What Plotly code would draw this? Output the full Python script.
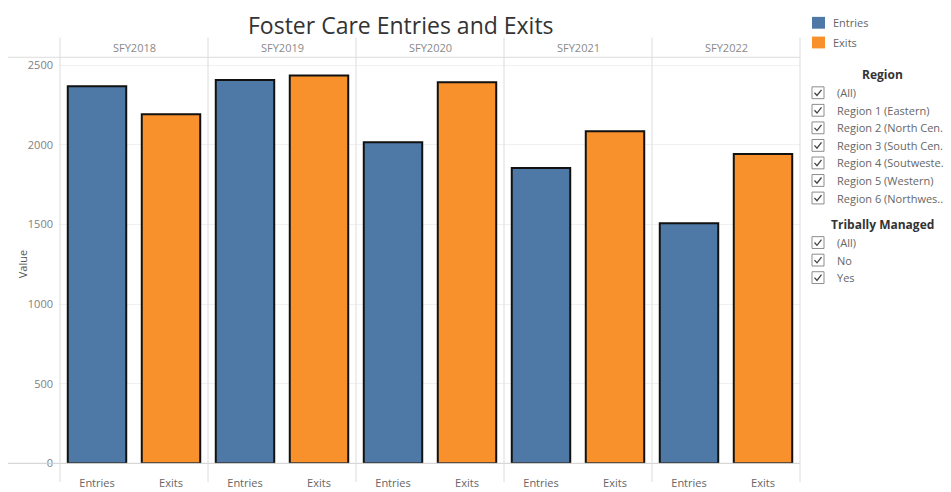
import plotly.graph_objects as go
from plotly.subplots import make_subplots

# ---- data ----
years = ["SFY2018", "SFY2019", "SFY2020", "SFY2021", "SFY2022"]
measures = ["Entries", "Exits"]
entries = [2368, 2407, 2016, 1855, 1507]
exits = [2192, 2436, 2393, 2086, 1942]
y_ticks = [0, 500, 1000, 1500, 2000, 2500]

region_items = ["(All)", "Region 1 (Eastern)", "Region 2 (North Cen...",
                "Region 3 (South Cen...", "Region 4 (Soutweste...",
                "Region 5 (Western)", "Region 6 (Northwes..."]
tribal_items = ["(All)", "No", "Yes"]

BLUE = "#4e79a7"
ORANGE = "#f8912b"
FONT = "Open Sans"

# the page body has an 8px margin, so the figure is drawn 8px in from the top-left
OFF = 8
W, H = 951 - OFF, 492 - OFF


def px(x):
    return (x - OFF) / W


def py(y):
    return 1 - (y - OFF) / H


PL, PR = 60, 800          # plot area left/right in screen px
PW = (PR - PL) / len(years)
Y0, YTOP = 470, 58        # zero line and plot top in screen px

fig = make_subplots(rows=1, cols=len(years), shared_yaxes=True, horizontal_spacing=0)

for i, yr in enumerate(years):
    fig.add_trace(go.Bar(
        x=measures, y=[entries[i], exits[i]],
        marker=dict(color=[BLUE, ORANGE], line=dict(color="#111111", width=2)),
        width=0.79, showlegend=False, hoverinfo="x+y"),
        row=1, col=i + 1)
    xa = "xaxis" if i == 0 else f"xaxis{i+1}"
    fig.layout[xa].update(
        domain=[px(PL + PW * i), px(PL + PW * (i + 1))],
        showgrid=False, zeroline=False, showline=False, ticks="",
        ticklabelstandoff=12,
        tickfont=dict(family=FONT, size=11, color="#666666"),
        range=[-0.5, 1.5], fixedrange=True)
    ya = "yaxis" if i == 0 else f"yaxis{i+1}"
    fig.layout[ya].update(
        domain=[py(Y0), py(YTOP)], range=[0, 2550],
        showgrid=True, gridcolor="#f0f0f0", gridwidth=1,
        zeroline=False, showline=False, ticks="",
        tickvals=y_ticks, showticklabels=(i == 0),
        tickfont=dict(family=FONT, size=11, color="#808080"),
        fixedrange=True)

fig.layout.yaxis.update(ticklabelstandoff=6)

shapes = []
LINE = "#dcdcdc"
# header separator and zero line
shapes.append(dict(type="line", xref="paper", yref="paper", x0=px(7), x1=px(PR),
                   y0=py(YTOP), y1=py(YTOP), line=dict(color=LINE, width=1)))
shapes.append(dict(type="line", xref="paper", yref="paper", x0=px(7), x1=px(PR),
                   y0=py(Y0), y1=py(Y0), line=dict(color="#cfcfcf", width=1)))
# vertical dividers
for k in range(len(years) + 1):
    xx = PL + PW * k
    shapes.append(dict(type="line", xref="paper", yref="paper", x0=px(xx), x1=px(xx),
                       y0=py(38), y1=py(489), line=dict(color=LINE, width=1)))

annotations = []
# title
annotations.append(dict(text="Foster Care Entries and Exits", x=px(401), y=1,
                        xref="paper", yref="paper", showarrow=False,
                        xanchor="center", yanchor="top", borderpad=0,
                        font=dict(family=FONT, size=23, color="#333333")))
# y axis title
annotations.append(dict(text="Value", x=px(22), y=py(268), xref="paper", yref="paper",
                        showarrow=False, textangle=-90, xanchor="center", yanchor="middle",
                        font=dict(family=FONT, size=11, color="#555555")))
# column headers
for i, yr in enumerate(years):
    annotations.append(dict(text=yr, x=px(PL + PW * (i + 0.5)), y=py(48),
                            xref="paper", yref="paper", showarrow=False,
                            xanchor="center", yanchor="middle",
                            font=dict(family=FONT, size=11, color="#8a8a8a")))

# legend
for j, (lab, col) in enumerate(zip(measures, [BLUE, ORANGE])):
    yc = 23 + 20 * j
    shapes.append(dict(type="rect", xref="paper", yref="paper",
                       x0=px(812), x1=px(825), y0=py(yc - 6), y1=py(yc + 6),
                       fillcolor=col, line=dict(width=0)))
    annotations.append(dict(text=lab, x=px(831), y=py(yc), xref="paper", yref="paper",
                            showarrow=False, xanchor="left", yanchor="middle",
                            font=dict(family=FONT, size=11, color="#666666")))


def filter_block(title, items, ytitle, ystart):
    annotations.append(dict(text="<b>" + title + "</b>", x=px(882), y=py(ytitle),
                            xref="paper", yref="paper", showarrow=False,
                            xanchor="center", yanchor="middle",
                            font=dict(family=FONT, size=12, color="#333333")))
    for k, it in enumerate(items):
        yc = ystart + 17.8 * k
        shapes.append(dict(type="rect", xref="paper", yref="paper",
                           x0=px(812), x1=px(824), y0=py(yc - 6), y1=py(yc + 6),
                           fillcolor="white", line=dict(color="#8c8c8c", width=1)))
        shapes.append(dict(type="path", xref="paper", yref="paper",
                           path=f"M {px(814.5)},{py(yc)} L {px(817)},{py(yc + 2.8)} L {px(821.5)},{py(yc - 3)}",
                           line=dict(color="#444444", width=1.3)))
        annotations.append(dict(text=it, x=px(835), y=py(yc), xref="paper", yref="paper",
                                showarrow=False, xanchor="left", yanchor="middle",
                                font=dict(family=FONT, size=11, color="#666666")))


filter_block("Region", region_items, 75, 94)
filter_block("Tribally Managed", tribal_items, 228, 246)

fig.update_layout(
    width=W, height=H, margin=dict(l=0, r=0, t=0, b=0),
    paper_bgcolor="white", plot_bgcolor="white",
    shapes=shapes, annotations=annotations, showlegend=False,
    bargap=0.2, font=dict(family=FONT))

fig.write_html("out.html")
